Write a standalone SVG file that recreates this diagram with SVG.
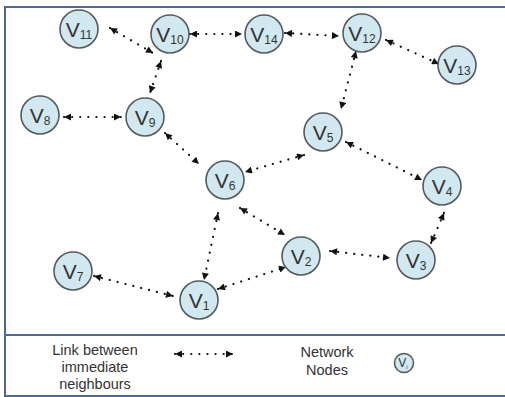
<svg xmlns="http://www.w3.org/2000/svg" width="505" height="397" viewBox="0 0 505 397">
  <style>
    .frame { fill: #ffffff; stroke: #4d6a92; stroke-width: 2; }
    .node circle { fill: #d2e8f0; stroke: #555a5e; stroke-width: 1.6; }
    .node text { font-family: "Liberation Sans", Arial, sans-serif; font-size: 21px; fill: #333333; text-anchor: middle; }
    .node tspan { font-size: 12px; }
    .link { stroke: #111111; stroke-width: 2.2; stroke-dasharray: 0.1 8; stroke-linecap: round; fill: none; marker-start: url(#tip); marker-end: url(#tip); }
    .legend { font-family: "Liberation Sans", Arial, sans-serif; font-size: 14.5px; fill: #333333; text-anchor: middle; }
  </style>
  <defs>
    <marker id="tip" viewBox="0 0 10 10" refX="10" refY="5" markerWidth="8" markerHeight="7" markerUnits="userSpaceOnUse" orient="auto-start-reverse">
      <path d="M0,0 L10,5 L0,10 z" fill="#111111"/>
    </marker>
  </defs>

  <!-- outer frame and legend divider -->
  <rect class="frame" x="5" y="7" width="506" height="389"/>
  <line x1="5" y1="335" x2="505" y2="335" stroke="#4d6a92" stroke-width="2"/>

  <!-- neighbour links -->
  <g id="links">
    <line class="link" x1="110" y1="28" x2="153" y2="53"/>
    <line class="link" x1="190" y1="34" x2="242" y2="34"/>
    <line class="link" x1="285" y1="33" x2="339" y2="36"/>
    <line class="link" x1="356" y1="51" x2="341" y2="109"/>
    <line class="link" x1="386" y1="40" x2="439" y2="64"/>
    <line class="link" x1="161" y1="61" x2="150" y2="93"/>
    <line class="link" x1="64" y1="117" x2="121" y2="117"/>
    <line class="link" x1="165" y1="133" x2="199" y2="164"/>
    <line class="link" x1="304" y1="155" x2="245" y2="172"/>
    <line class="link" x1="346" y1="142" x2="422" y2="180"/>
    <line class="link" x1="444" y1="213" x2="431" y2="243"/>
    <line class="link" x1="330" y1="251" x2="390" y2="258"/>
    <line class="link" x1="240" y1="208" x2="285" y2="235"/>
    <line class="link" x1="218" y1="213" x2="204" y2="280"/>
    <line class="link" x1="218" y1="289" x2="286" y2="267"/>
    <line class="link" x1="94" y1="276" x2="173" y2="296"/>
  </g>

  <!-- network nodes -->
  <g id="v11" class="node"><circle cx="79" cy="29" r="19"/><text x="79" y="37">V<tspan dy="2">11</tspan></text></g>
  <g id="v10" class="node"><circle cx="170" cy="34" r="19"/><text x="170" y="42">V<tspan dy="2">10</tspan></text></g>
  <g id="v14" class="node"><circle cx="264" cy="34" r="19"/><text x="264" y="42">V<tspan dy="2">14</tspan></text></g>
  <g id="v12" class="node"><circle cx="362" cy="33" r="19"/><text x="362" y="41">V<tspan dy="2">12</tspan></text></g>
  <g id="v13" class="node"><circle cx="457" cy="65" r="19"/><text x="457" y="73">V<tspan dy="2">13</tspan></text></g>
  <g id="v8" class="node"><circle cx="40" cy="115" r="19"/><text x="40" y="123">V<tspan dy="2">8</tspan></text></g>
  <g id="v9" class="node"><circle cx="145" cy="117" r="19"/><text x="145" y="125">V<tspan dy="2">9</tspan></text></g>
  <g id="v5" class="node"><circle cx="323" cy="132" r="19"/><text x="323" y="140">V<tspan dy="2">5</tspan></text></g>
  <g id="v6" class="node"><circle cx="225" cy="180" r="19"/><text x="225" y="188">V<tspan dy="2">6</tspan></text></g>
  <g id="v4" class="node"><circle cx="442" cy="186" r="19"/><text x="442" y="194">V<tspan dy="2">4</tspan></text></g>
  <g id="v2" class="node"><circle cx="301" cy="256" r="19"/><text x="301" y="264">V<tspan dy="2">2</tspan></text></g>
  <g id="v3" class="node"><circle cx="416" cy="260" r="19"/><text x="416" y="268">V<tspan dy="2">3</tspan></text></g>
  <g id="v7" class="node"><circle cx="73" cy="271" r="19"/><text x="73" y="279">V<tspan dy="2">7</tspan></text></g>
  <g id="v1" class="node"><circle cx="199" cy="300" r="19"/><text x="199" y="308">V<tspan dy="2">1</tspan></text></g>

  <!-- legend -->
  <g id="legend">
    <text class="legend" x="95" y="355">Link between</text>
    <text class="legend" x="95" y="372">immediate</text>
    <text class="legend" x="95" y="389">neighbours</text>
    <line class="link" x1="175" y1="354" x2="233" y2="354"/>
    <text class="legend" x="327" y="357">Network</text>
    <text class="legend" x="327" y="375">Nodes</text>
    <g id="legend-node" class="node">
      <circle cx="404" cy="363" r="9.5"/>
      <text x="403" y="367" style="font-size:12px">V<tspan dy="2" style="font-size:6px">i</tspan></text>
    </g>
  </g>
</svg>
